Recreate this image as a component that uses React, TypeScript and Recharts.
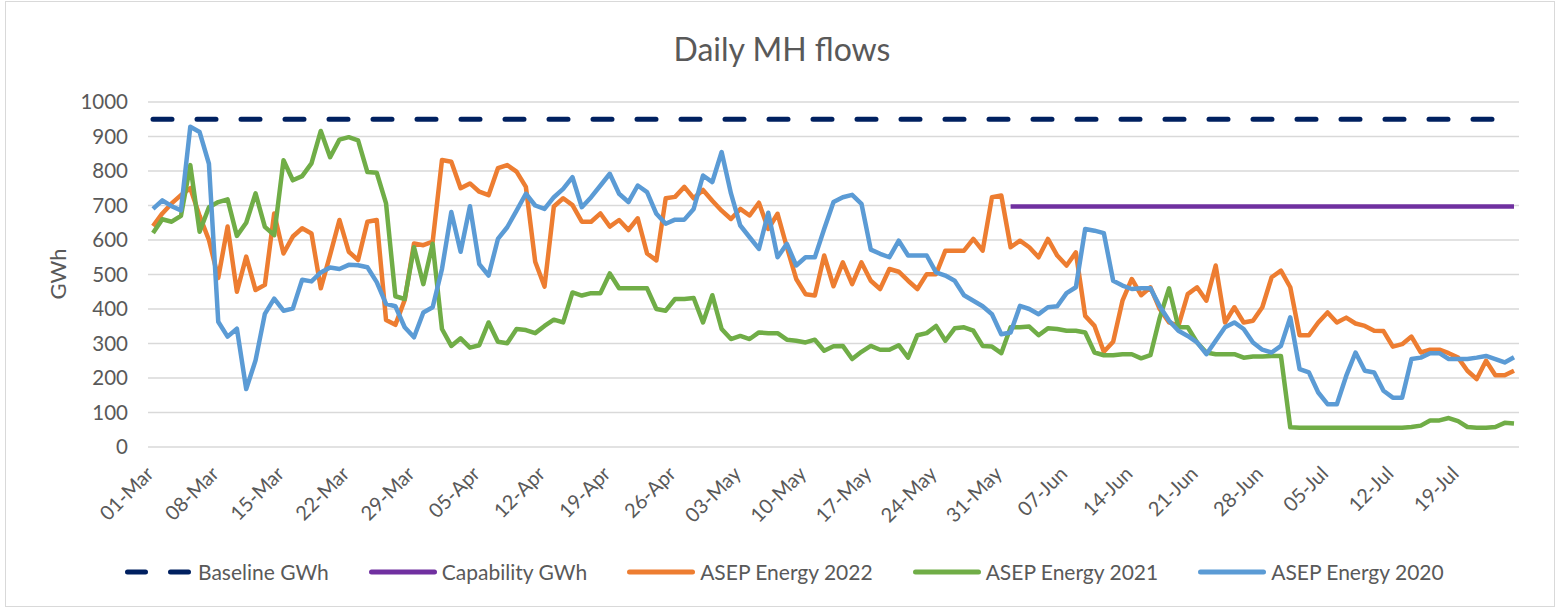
import React from 'react';
import { LineChart, Line, XAxis, YAxis, CartesianGrid } from 'recharts';

// categories: one point per day, 01-Mar .. 25-Jul
const monthNames = ['Mar', 'Apr', 'May', 'Jun', 'Jul'];
const monthDays = [31, 30, 31, 30, 25];
const dates: string[] = [];
monthNames.forEach((m, k) => {
  for (let d = 1; d <= monthDays[k]; d++) dates.push(`${String(d).padStart(2, '0')}-${m}`);
});

const yTicks = [0, 100, 200, 300, 400, 500, 600, 700, 800, 900, 1000];

const baselineGWh = 950;
const capabilityGWh = 697;
const capabilityFrom = '01-Jun';

const asep2022 = [
  640, 677, 706, 730, 750, 670, 600, 490, 639, 450, 552, 455, 470, 677, 561, 610, 634, 619, 460, 557,
  658, 566, 542, 653, 658, 368, 354, 426, 590, 585, 595, 832, 827, 750, 764, 740, 730, 808, 817, 798,
  754, 537, 465, 697, 721, 701, 653, 653, 677, 639, 658, 629, 663, 561, 541, 721, 725, 754, 721, 745,
  714, 685, 661, 690, 671, 708, 632, 676, 579, 487, 443, 439, 555, 466, 535, 472, 535, 482, 458, 516,
  508, 482, 458, 501, 501, 569, 569, 569, 603, 569, 724, 729, 579, 598, 579, 550, 603, 555, 526, 564,
  380, 351, 276, 305, 424, 487, 440, 463, 400, 361, 351, 443, 463, 424, 526, 361, 405, 361, 366, 405,
  492, 511, 463, 324, 324, 361, 390, 361, 375, 358, 351, 337, 336, 291, 298, 320, 274, 282, 282, 272,
  259, 221, 197, 250, 208, 208, 221,
];

const asep2021 = [
  620, 660, 653, 670, 817, 624, 695, 710, 718, 612, 650, 735, 638, 614, 831, 773, 785, 822, 916, 840,
  891, 898, 889, 797, 795, 706, 437, 429, 579, 472, 589, 342, 293, 315, 288, 295, 361, 305, 301, 342,
  339, 330, 351, 369, 361, 448, 439, 446, 446, 503, 460, 460, 460, 460, 400, 395, 429, 429, 432, 361,
  440, 342, 313, 322, 313, 332, 330, 330, 311, 308, 303, 311, 279, 292, 293, 255, 276, 293, 282, 282,
  295, 259, 324, 330, 351, 308, 344, 347, 337, 293, 291, 272, 347, 347, 349, 324, 344, 342, 337, 337,
  332, 274, 266, 266, 269, 269, 257, 266, 375, 460, 347, 347, 303, 274, 269, 269, 269, 259, 262, 262,
  264, 264, 57, 56, 56, 56, 56, 56, 56, 56, 56, 56, 56, 56, 56, 58, 62, 77, 77, 84,
  75, 58, 56, 56, 58, 70, 68,
];

const asep2020 = [
  690, 715, 698, 686, 928, 913, 821, 363, 320, 343, 168, 251, 386, 430, 395, 401, 485, 480, 506, 520,
  516, 528, 527, 521, 478, 415, 408, 347, 318, 390, 405, 516, 681, 566, 698, 530, 497, 603, 637, 685,
  734, 700, 690, 724, 748, 782, 695, 724, 758, 792, 734, 710, 758, 739, 676, 647, 659, 659, 690, 787,
  768, 855, 735, 642, 608, 574, 679, 550, 589, 526, 550, 550, 632, 710, 724, 731, 705, 572, 560, 550,
  598, 555, 555, 555, 506, 497, 482, 440, 424, 408, 385, 327, 332, 409, 400, 385, 405, 408, 446, 463,
  632, 627, 620, 482, 468, 458, 460, 460, 408, 366, 337, 322, 303, 269, 308, 347, 361, 342, 303, 282,
  274, 293, 376, 226, 216, 158, 124, 124, 206, 274, 221, 216, 163, 143, 143, 255, 259, 272, 272, 255,
  255, 255, 259, 264, 255, 245, 260,
];

const capStart = dates.indexOf(capabilityFrom);
const data = dates.map((date, i) => ({
  date,
  baseline: baselineGWh,
  capability: i >= capStart ? capabilityGWh : null,
  e2022: asep2022[i],
  e2021: asep2021[i],
  e2020: asep2020[i],
}));

const FONT = 'Lato, "Open Sans", sans-serif';
const TEXT = '#595959';

const legendItems = [
  { name: 'Baseline GWh', color: '#002060', dash: '18 25' },
  { name: 'Capability GWh', color: '#7030A0' },
  { name: 'ASEP Energy 2022', color: '#ED7D31' },
  { name: 'ASEP Energy 2021', color: '#70AD47' },
  { name: 'ASEP Energy 2020', color: '#5B9BD5' },
];

function DateTick({ x, y, payload }: any) {
  return (
    <g transform={`translate(${x + 2},${y + 20})`}>
      <text x={0} y={0} textAnchor="end" transform="rotate(-45)" fill={TEXT} fontSize={20} fontFamily={FONT}>
        {payload.value}
      </text>
    </g>
  );
}

export default function App() {
  return (
    <div style={{ position: 'absolute', left: 0, top: 0, width: 1556, height: 609, background: '#fff', fontFamily: FONT }}>
      <div style={{ position: 'absolute', left: 5, top: 1, width: 1550, height: 606, border: '1px solid #d9d9d9', boxSizing: 'border-box' }} />

      <div style={{ position: 'absolute', left: 4, width: 1556, top: 29, textAlign: 'center', fontSize: 32, color: TEXT }}>
        Daily MH flows
      </div>

      <div style={{ position: 'absolute', left: 57, top: 274, transform: 'translate(-50%, -50%) rotate(-90deg)', fontSize: 22, color: TEXT }}>
        GWh
      </div>

      <div style={{ position: 'absolute', left: 0, top: 0 }}>
        <LineChart width={1556} height={609} data={data} margin={{ top: 102, right: 37, bottom: 102, left: 0 }}>
          <CartesianGrid vertical={false} stroke="#d9d9d9" strokeWidth={1.5} />
          <XAxis
            dataKey="date"
            interval={6}
            height={60}
            padding={{ left: 5, right: 5 }}
            axisLine={false}
            tickLine={false}
            tick={<DateTick />}
          />
          <YAxis
            domain={[0, 1000]}
            ticks={yTicks}
            width={148}
            axisLine={false}
            tickLine={false}
            tickMargin={14}
            tick={{ fill: TEXT, fontSize: 20.5, fontFamily: FONT }}
          />
          <Line dataKey="baseline" stroke="#002060" strokeWidth={5} strokeDasharray="19 25" strokeLinecap="round" dot={false} isAnimationActive={false} />
          <Line dataKey="capability" stroke="#7030A0" strokeWidth={4.5} dot={false} isAnimationActive={false} />
          <Line dataKey="e2022" stroke="#ED7D31" strokeWidth={4.5} strokeLinejoin="round" dot={false} isAnimationActive={false} />
          <Line dataKey="e2021" stroke="#70AD47" strokeWidth={4.5} strokeLinejoin="round" dot={false} isAnimationActive={false} />
          <Line dataKey="e2020" stroke="#5B9BD5" strokeWidth={4.5} strokeLinejoin="round" dot={false} isAnimationActive={false} />
        </LineChart>
      </div>

      <div style={{ position: 'absolute', left: 125, top: 559, display: 'flex', alignItems: 'center', gap: 40, fontSize: 21, color: TEXT, whiteSpace: 'nowrap' }}>
        {legendItems.map((it) => (
          <div key={it.name} style={{ display: 'flex', alignItems: 'center' }}>
            <svg width={68} height={10}>
              <line x1={2.5} y1={5} x2={65.5} y2={5} stroke={it.color} strokeWidth={5} strokeLinecap="round" strokeDasharray={it.dash} />
            </svg>
            <span style={{ marginLeft: 5 }}>{it.name}</span>
          </div>
        ))}
      </div>
    </div>
  );
}
